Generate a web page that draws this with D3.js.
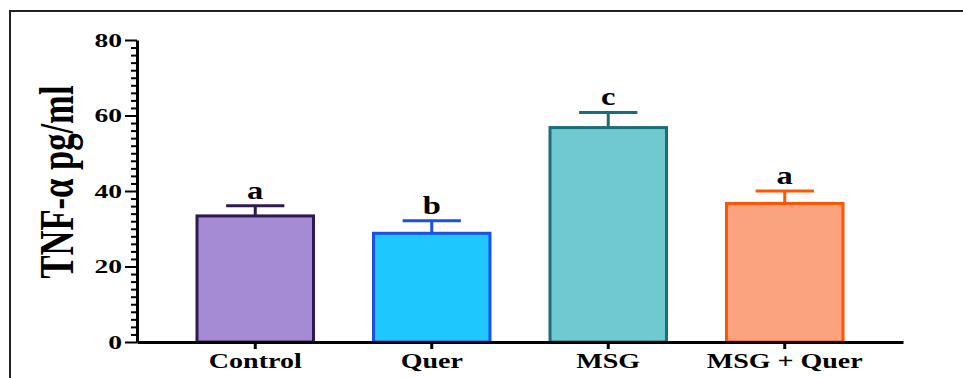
<!DOCTYPE html>
<html>
<head>
<meta charset="utf-8">
<script src="https://cdn.jsdelivr.net/npm/d3@7"></script>
<style>
  body { margin: 0; background: #fff; }
  text { font-family: 'Liberation Serif', 'Times New Roman', serif; font-weight: bold; }
</style>
</head>
<body>
<div id="chart"></div>
<script>
const groups = ['Control', 'Quer', 'MSG', 'MSG + Quer']
const means = [33.4, 28.8, 56.8, 36.7]
const errs = [2.7, 3.3, 4.0, 3.3]
const letters = ['a', 'b', 'c', 'a']
const fills = ['#a58bd3', '#1ec8ff', '#70c8d0', '#fba27e']
const strokes = ['#2d1a4f', '#1a4fe8', '#1a6e78', '#ff5500']
const yTicks = [0, 20, 40, 60, 80]

const width = 963
const height = 378
const margin = { top: 40, left: 137, right: 60, bottom: 36 }

const svg = d3
  .select('#chart')
  .append('svg')
  .attr('width', width)
  .attr('height', height)

// outer frame
svg
  .append('rect')
  .attr('x', 10)
  .attr('y', 11)
  .attr('width', 1000)
  .attr('height', 400)
  .attr('fill', 'none')
  .attr('stroke', '#222')
  .attr('stroke-width', 2)

const x = d3
  .scaleBand()
  .domain(groups)
  .range([margin.left, width - margin.right])
  .paddingInner(0.34)
  .paddingOuter(0.34)

const y = d3
  .scaleLinear()
  .domain([0, 80])
  .range([height - margin.bottom, margin.top])

// stretch text horizontally like the picture
function stretch(sel, k) {
  sel.each(function() {
    const t = d3.select(this)
    const w = this.getComputedTextLength()
    t.attr('textLength', w * k).attr('lengthAdjust', 'spacingAndGlyphs')
  })
}

// Bars
svg
  .selectAll('.bar')
  .data(groups)
  .enter()
  .append('rect')
  .attr('class', 'bar')
  .attr('x', d => x(d))
  .attr('y', (d, i) => y(means[i]))
  .attr('width', x.bandwidth())
  .attr('height', (d, i) => y(0) - y(means[i]))
  .attr('fill', (d, i) => fills[i])
  .attr('stroke', (d, i) => strokes[i])
  .attr('stroke-width', 3)

// Error bars
svg
  .selectAll('.err')
  .data(groups)
  .enter()
  .append('g')
  .attr('class', 'err')
  .each(function(d, i) {
    const g = d3.select(this)
    const cx = x(d) + x.bandwidth() / 2
    g.append('line')
      .attr('x1', cx).attr('x2', cx)
      .attr('y1', y(means[i])).attr('y2', y(means[i] + errs[i]))
      .attr('stroke', strokes[i]).attr('stroke-width', 3)
    g.append('line')
      .attr('x1', cx - x.bandwidth() / 4).attr('x2', cx + x.bandwidth() / 4)
      .attr('y1', y(means[i] + errs[i])).attr('y2', y(means[i] + errs[i]))
      .attr('stroke', strokes[i]).attr('stroke-width', 3)
  })

// Letters
svg
  .selectAll('.letter')
  .data(groups)
  .enter()
  .append('text')
  .attr('class', 'letter')
  .attr('x', d => x(d) + x.bandwidth() / 2)
  .attr('y', (d, i) => y(means[i] + errs[i]) - 7)
  .attr('text-anchor', 'middle')
  .style('font-size', '26px')
  .text((d, i) => letters[i])
  .call(stretch, 1.25)

// Y axis
const yMinor = d3.range(0, 81, 2).filter(v => v % 20 !== 0)
svg
  .append('g')
  .attr('transform', `translate(${margin.left},0)`)
  .call(d3.axisLeft(y).tickValues(yMinor).tickSize(6).tickFormat(''))
  .call(g => g.select('.domain').remove())
  .call(g => g.selectAll('line').attr('stroke', '#000').attr('stroke-width', 2))

const yAxis = svg
  .append('g')
  .attr('transform', `translate(${margin.left},0)`)
  .call(d3.axisLeft(y).tickValues(yTicks).tickSize(12).tickSizeOuter(0).tickPadding(3))

yAxis.select('.domain').attr('stroke', '#000').attr('stroke-width', 3)
yAxis.selectAll('line').attr('stroke', '#000').attr('stroke-width', 2)
yAxis
  .selectAll('text')
  .attr('fill', '#000')
  .style('font-size', '19px')
  .call(stretch, 1.45)

// X axis
const xAxis = svg
  .append('g')
  .attr('transform', `translate(0,${y(0)})`)
  .call(d3.axisBottom(x).tickSize(7).tickSizeOuter(0).tickPadding(5))

xAxis.select('.domain').attr('stroke', '#000').attr('stroke-width', 3)
xAxis.selectAll('line').attr('stroke', '#000').attr('stroke-width', 3)
xAxis
  .selectAll('text')
  .attr('fill', '#000')
  .style('font-size', '20px')
  .call(stretch, 1.4)

// Y label
svg
  .append('text')
  .attr('transform', 'translate(73,182) rotate(-90)')
  .attr('text-anchor', 'middle')
  .style('font-size', '48px')
  .attr('textLength', 193)
  .attr('lengthAdjust', 'spacingAndGlyphs')
  .text('TNF-α pg/ml')
</script>
</body>
</html>
